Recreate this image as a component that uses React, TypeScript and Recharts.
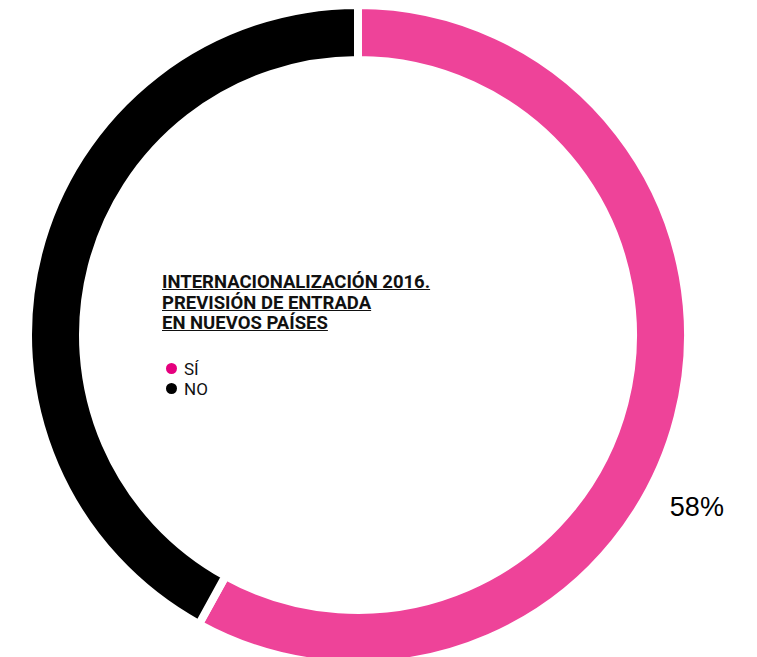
import React from 'react';
import { PieChart, Pie, Cell, Legend } from 'recharts';

const categories = ['SÍ', 'NO'];
const values = [58, 42];
const ringColors = ['#EE4399', '#000000'];
const dotColors = ['#E5007E', '#000000'];
const titleLines = ['INTERNACIONALIZACIÓN 2016.', 'PREVISIÓN DE ENTRADA', 'EN NUEVOS PAÍSES'];

const data = categories.map((name, i) => ({ name, value: values[i] }));

const RADIAN = Math.PI / 180;

const renderLabel = ({ cx, cy, midAngle, outerRadius, index, value }: any) => {
  if (index !== 0) return null;
  // label sits a bit further down the ring than the slice middle
  const angle = (midAngle - 12.5) * RADIAN;
  const r = outerRadius + 50;
  const x = cx + r * Math.cos(angle);
  const y = cy - r * Math.sin(angle);
  return (
    <text x={x} y={y} fill="#000" fontSize={27} fontFamily="'Liberation Sans', Arial, sans-serif"
      textAnchor="middle" dominantBaseline="central">
      {value}%
    </text>
  );
};

const LegendContent = () => (
  <div style={{ fontFamily: 'Roboto, sans-serif', color: '#111' }}>
    {titleLines.map((t) => (
      <div key={t} style={{ fontWeight: 700, fontSize: 18.5, lineHeight: '20.5px', textDecoration: 'underline' }}>
        {t}
      </div>
    ))}
    <div style={{ marginTop: 25 }}>
      {data.map((d, i) => (
        <div key={d.name} style={{ display: 'flex', alignItems: 'center', fontSize: 17, lineHeight: '20px' }}>
          <span style={{
            display: 'inline-block', width: 11, height: 11, borderRadius: 6,
            background: dotColors[i], marginLeft: 4, marginRight: 7,
          }} />
          <span>{d.name}</span>
        </div>
      ))}
    </div>
  </div>
);

export default function App() {
  return (
    <div style={{ position: 'absolute', left: 0, top: 0, width: 757, height: 657, background: '#fff' }}>
      <PieChart width={757} height={657} margin={{ top: 0, right: 0, bottom: 0, left: 0 }}>
        <Pie
          data={data}
          dataKey="value"
          nameKey="name"
          cx={358}
          cy={335}
          innerRadius={275}
          outerRadius={330}
          startAngle={90}
          endAngle={-270}
          stroke="#fff"
          strokeWidth={8}
          label={renderLabel}
          labelLine={false}
          isAnimationActive={false}
        >
          {data.map((d, i) => (
            <Cell key={d.name} fill={ringColors[i]} />
          ))}
        </Pie>
        <Legend
          content={<LegendContent />}
          layout="vertical"
          wrapperStyle={{ position: 'absolute', left: 162, top: 272, width: 320 }}
        />
      </PieChart>
    </div>
  );
}
